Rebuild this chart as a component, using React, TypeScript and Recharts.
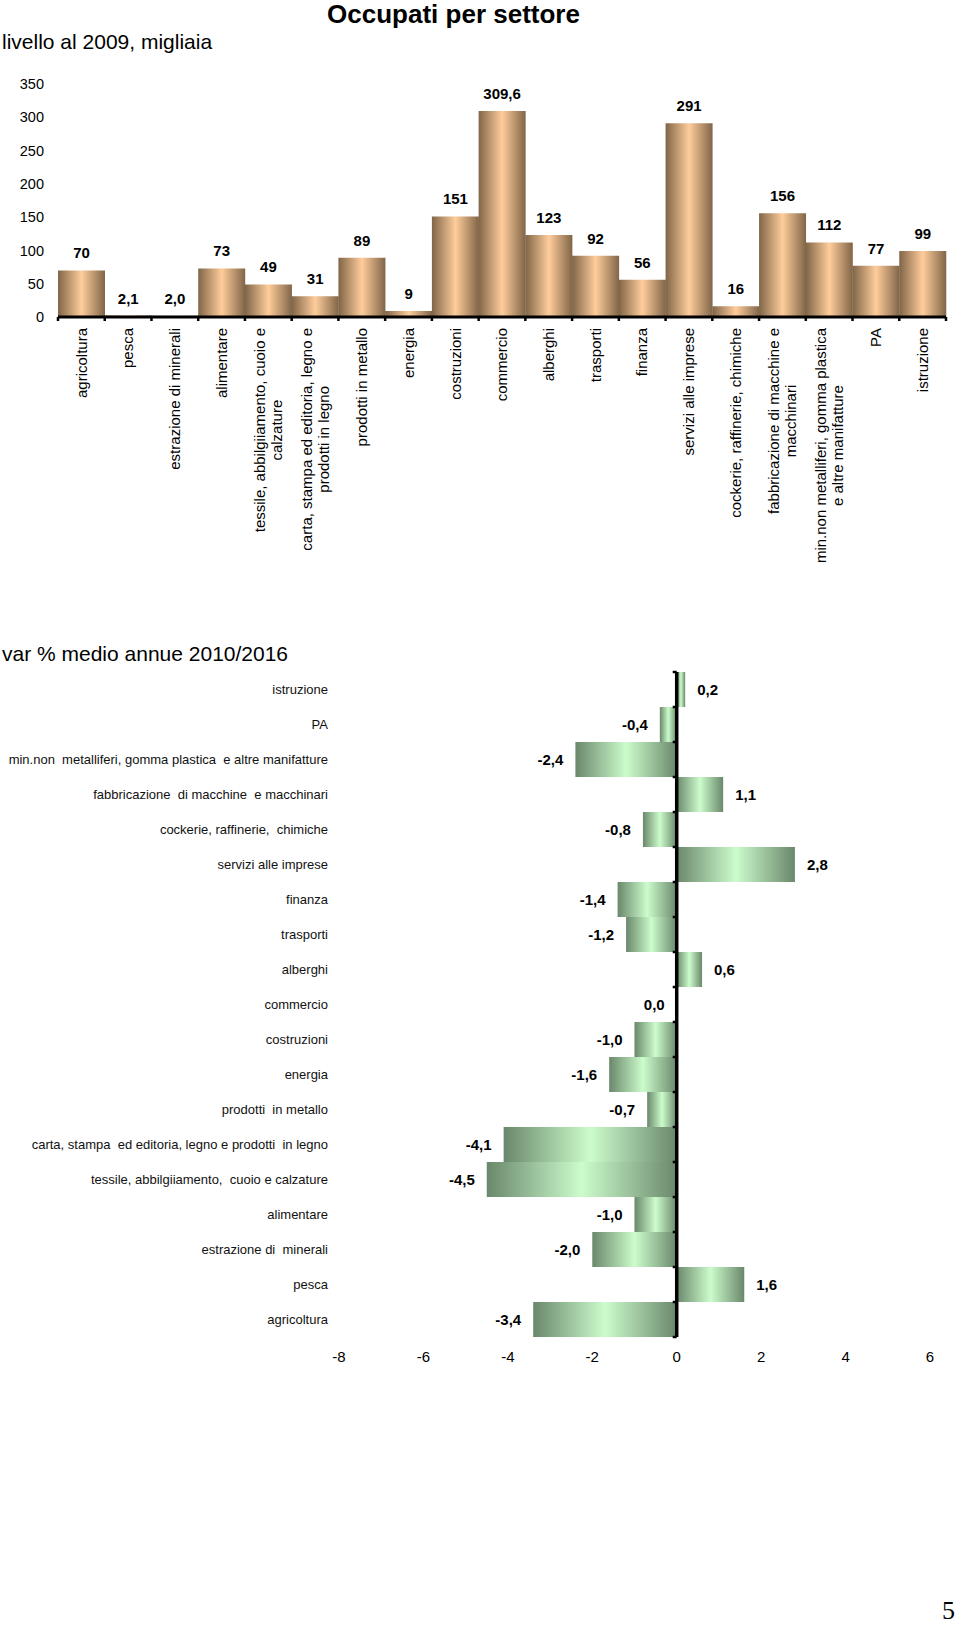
import React from "react";
import {
  BarChart,
  Bar,
  XAxis,
  YAxis,
  LabelList,
  ReferenceLine,
} from "recharts";

// settori, nello stesso ordine del grafico in alto (da sinistra a destra)
const sectors = [
  "agricoltura",
  "pesca",
  "estrazione di minerali",
  "alimentare",
  "tessile, abbilgiiamento, cuoio e\ncalzature",
  "carta, stampa ed editoria, legno e\nprodotti in legno",
  "prodotti in metallo",
  "energia",
  "costruzioni",
  "commercio",
  "alberghi",
  "trasporti",
  "finanza",
  "servizi alle imprese",
  "cockerie, raffinerie, chimiche",
  "fabbricazione di macchine e\nmacchinari",
  "min.non metalliferi, gomma plastica\ne altre manifatture",
  "PA",
  "istruzione",
];

// le stesse voci come appaiono nel grafico in basso
const varSectorLabels = [
  "agricoltura",
  "pesca",
  "estrazione di  minerali",
  "alimentare",
  "tessile, abbilgiiamento,  cuoio e calzature",
  "carta, stampa  ed editoria, legno e prodotti  in legno",
  "prodotti  in metallo",
  "energia",
  "costruzioni",
  "commercio",
  "alberghi",
  "trasporti",
  "finanza",
  "servizi alle imprese",
  "cockerie, raffinerie,  chimiche",
  "fabbricazione  di macchine  e macchinari",
  "min.non  metalliferi, gomma plastica  e altre manifatture",
  "PA",
  "istruzione",
];

// livello al 2009, migliaia
const occupati2009 = [70, 2.1, 2.0, 73, 49, 31, 89, 9, 151, 309.6, 123, 92, 56, 291, 16, 156, 112, 77, 99];
const occupatiLabels = ["70", "2,1", "2,0", "73", "49", "31", "89", "9", "151", "309,6", "123", "92", "56", "291", "16", "156", "112", "77", "99"];

// var % medio annue 2010/2016
const varMedia = [-3.4, 1.6, -2.0, -1.0, -4.5, -4.1, -0.7, -1.6, -1.0, 0.0, 0.6, -1.2, -1.4, 2.8, -0.8, 1.1, -2.4, -0.4, 0.2];

const levelTicks = [0, 50, 100, 150, 200, 250, 300, 350];
const varTicks = [-8, -6, -4, -2, 0, 2, 4, 6];

const FONT = '"Liberation Sans", Arial, Helvetica, sans-serif';

const levelData = sectors.map((name, i) => ({
  name,
  value: occupati2009[i],
  label: occupatiLabels[i],
}));

const varData = varSectorLabels.map((name, i) => ({ name, value: varMedia[i] }));

let measureCtx: CanvasRenderingContext2D | null = null;
const measure = (s: string, font: string) => {
  if (!measureCtx) measureCtx = document.createElement("canvas").getContext("2d");
  if (!measureCtx) return s.length * 7.5;
  measureCtx.font = font;
  return measureCtx.measureText(s).width;
};

const SectorTick = (props: any) => {
  const { x, y, payload } = props;
  const lines = String(payload.value).split("\n");
  const w = Math.max(...lines.map((l) => measure(l, `15px ${FONT}`)));
  const lh = 17;
  return (
    <g transform={`translate(${x},${y}) rotate(-90)`}>
      {lines.map((l, i) => (
        <text
          key={i}
          x={-w / 2}
          y={(i - (lines.length - 1) / 2) * lh}
          dy="0.35em"
          textAnchor="middle"
          fontSize={15}
          fill="#000"
        >
          {l}
        </text>
      ))}
    </g>
  );
};

const VarTick = (props: any) => {
  const { x, y, payload } = props;
  return (
    <text
      x={x}
      y={y}
      dy="0.35em"
      textAnchor="end"
      fontSize={13}
      fill="#111"
      xmlSpace="preserve"
      style={{ whiteSpace: "pre" }}
    >
      {String(payload.value)}
    </text>
  );
};

const fmtVar = (v: number) => v.toFixed(1).replace(".", ",");

const VarLabel = (props: any) => {
  const vb = props.viewBox || props;
  const { x, y, width, height } = vb;
  const v = Number(props.value);
  const left = Math.min(x, x + width);
  const right = Math.max(x, x + width);
  const pos = v > 0;
  return (
    <text
      x={pos ? right + 12 : left - 12}
      y={y + height / 2}
      dy="0.35em"
      textAnchor={pos ? "start" : "end"}
      fontSize={15}
      fontWeight="bold"
      fill="#000"
    >
      {fmtVar(v)}
    </text>
  );
};

// asse delle categorie con le tacche ai bordi delle colonne
const levelBaseAxis = (props: any) => {
  const { x1, x2, y1 } = props;
  const n = sectors.length;
  const step = (x2 - x1) / n;
  return (
    <g>
      <line x1={x1} y1={y1} x2={x2} y2={y1} stroke="#000" strokeWidth={3} />
      {Array.from({ length: n + 1 }, (_, k) => (
        <line key={k} x1={x1 + k * step} x2={x1 + k * step} y1={y1} y2={y1 + 4} stroke="#000" strokeWidth={2.5} />
      ))}
    </g>
  );
};

const varBaseAxis = (props: any) => {
  const { x1, y1, y2 } = props;
  const n = sectors.length;
  const top = Math.min(y1, y2);
  const step = Math.abs(y2 - y1) / n;
  return (
    <g>
      <line x1={x1} y1={y1} x2={x1} y2={y2} stroke="#000" strokeWidth={3.5} />
      {Array.from({ length: n + 1 }, (_, k) => (
        <line key={k} x1={x1} x2={x1 - 4} y1={top + k * step} y2={top + k * step} stroke="#000" strokeWidth={2.5} />
      ))}
    </g>
  );
};

export default function App() {
  return (
    <div
      style={{
        position: "absolute",
        left: 0,
        top: 0,
        width: 960,
        height: 1628,
        overflow: "hidden",
        background: "#fff",
        fontFamily: FONT,
      }}
    >
      <svg width={960} height={1628} style={{ position: "absolute", left: 0, top: 0 }}>
        <text x={453.5} y={23} textAnchor="middle" fontSize={26} fontWeight="bold" fill="#000">
          Occupati per settore
        </text>
        <text x={2} y={49} fontSize={21} fill="#000">
          livello al 2009, migliaia
        </text>
        <text x={2} y={660.5} fontSize={21} fill="#000">
          var % medio annue 2010/2016
        </text>
        <text x={942} y={1619} fontSize={26} fontFamily='"Liberation Serif", "Times New Roman", serif' fill="#000">
          5
        </text>
      </svg>

      <div style={{ position: "absolute", left: 0, top: 0 }}>
        <BarChart
          width={960}
          height={580}
          data={levelData}
          margin={{ top: 84, right: 14, left: 0, bottom: 0 }}
          barCategoryGap={0}
          barGap={0}
        >
          <defs>
            <linearGradient id="tanGrad" x1="0" y1="0" x2="1" y2="0">
              <stop offset="0%" stopColor="#806548" />
              <stop offset="50%" stopColor="#ffcd9b" />
              <stop offset="100%" stopColor="#806548" />
            </linearGradient>
          </defs>
          <XAxis
            dataKey="name"
            interval={0}
            height={263}
            axisLine={false}
            tickLine={false}
            tickSize={0}
            tickMargin={11}
            tick={<SectorTick />}
          />
          <YAxis
            domain={[0, 350]}
            ticks={levelTicks}
            width={58}
            axisLine={false}
            tickLine={false}
            tickSize={0}
            tickMargin={14}
            tick={{ fill: "#000", fontSize: 14.5 }}
          />
          <Bar dataKey="value" fill="url(#tanGrad)" isAnimationActive={false}>
            <LabelList dataKey="label" position="top" offset={12} fill="#000" fontSize={15} fontWeight="bold" />
          </Bar>
          <ReferenceLine y={0} shape={levelBaseAxis} />
        </BarChart>
      </div>

      <div style={{ position: "absolute", left: 0, top: 600 }}>
        <BarChart
          width={960}
          height={777}
          data={varData}
          layout="vertical"
          margin={{ top: 72, right: 30, left: 0, bottom: 0 }}
          barCategoryGap={0}
          barGap={0}
        >
          <defs>
            <linearGradient id="greenGrad" x1="0" y1="0" x2="1" y2="0">
              <stop offset="0%" stopColor="#6a886b" />
              <stop offset="50%" stopColor="#ccfccc" />
              <stop offset="100%" stopColor="#6a886b" />
            </linearGradient>
          </defs>
          <XAxis
            type="number"
            domain={[-8, 6]}
            ticks={varTicks}
            height={40}
            axisLine={false}
            tickLine={false}
            tickSize={0}
            tickMargin={14}
            tick={{ fill: "#000", fontSize: 15 }}
          />
          <YAxis
            type="category"
            dataKey="name"
            reversed
            interval={0}
            width={339}
            axisLine={false}
            tickLine={false}
            tickSize={0}
            tickMargin={11}
            tick={<VarTick />}
          />
          <Bar
            dataKey="value"
            fill="url(#greenGrad)"
            minPointSize={(v: number) => (v === 0 ? 1 : 0)}
            isAnimationActive={false}
          >
            <LabelList dataKey="value" content={VarLabel} />
          </Bar>
          <ReferenceLine x={0} shape={varBaseAxis} />
        </BarChart>
      </div>
    </div>
  );
}
